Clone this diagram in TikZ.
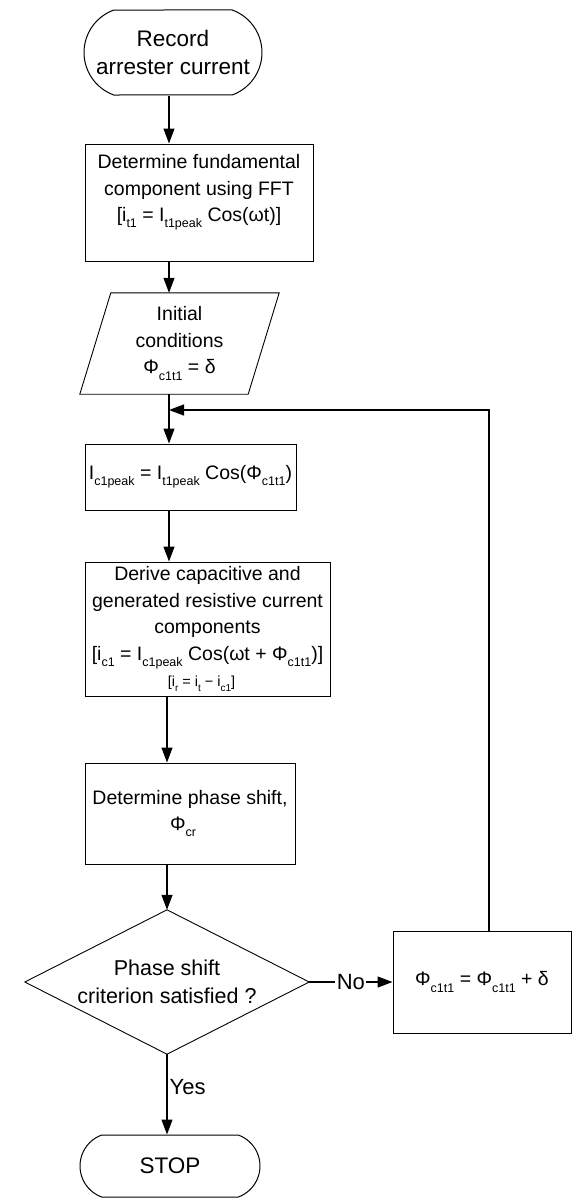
\documentclass[tikz,border=0pt]{standalone}
\usepackage{fontspec}
\setmainfont{Liberation Sans}
\usetikzlibrary{arrows.meta,shapes.misc,calc}
\newcommand\sbs[1]{\raisebox{-0.32em}{\fontsize{12.5}{12.5}\selectfont #1}}
\newcommand\sbsm[1]{\raisebox{-0.3em}{\fontsize{10}{10}\selectfont #1}}
\begin{document}
\begin{tikzpicture}[x=1pt,y=-1pt,
  every node/.style={font=\fontsize{19.5}{26.5}\selectfont, align=center, inner sep=0pt},
  box/.style={draw, line width=1pt, rectangle},
  term/.style={draw, line width=1pt, rounded rectangle, rounded rectangle arc length=140,
    font=\fontsize{22.5}{28}\selectfont},
  plain/.style={draw=none},
  shapeline/.style={line width=0.9pt},
  arr/.style={line width=1.2pt, -{Triangle[length=15pt,width=11pt]}},
  lbl/.style={fill=white, inner sep=1.5pt, font=\fontsize{22}{26}\selectfont}]
\useasboundingbox[fill=white] (0,0) rectangle (572,1199);

\coordinate (ax1) at (169,0);
\coordinate (ax2) at (167,0);
\coordinate (j) at (169,410);

\node[term, minimum width=178pt, minimum height=85pt] (rec) at (173,52.5) {Record\\arrester current};

\node[box, minimum width=228pt, minimum height=117pt,
  label={[yshift=10pt, align=center]center:Determine fundamental\\component using FFT\\{[}i\sbs{t1} = I\sbs{t1peak} Cos(ωt)]}] (fft) at (199,202.5) {};

\node[plain, minimum width=199pt, minimum height=101pt] (init) at (179.5,343.5) {Initial\\conditions\\Φ\sbs{c1t1} = δ};
\draw[shapeline] ($(init.north west)+(31,0)$) -- (init.north east) -- ($(init.south east)+(-31,0)$) -- (init.south west) -- cycle;

\node[box, minimum width=211pt, minimum height=66pt] (ic) at (190.5,477) {I\sbs{c1peak} = I\sbs{t1peak} Cos(Φ\sbs{c1t1})};

\node[box, minimum width=245pt, minimum height=134pt] (der) at (207.5,629) {Derive capacitive and\\generated resistive current\\components\\{[}i\sbs{c1} = I\sbs{c1peak} Cos(ωt + Φ\sbs{c1t1})]\\{\fontsize{14.5}{21}\selectfont [i\sbsm{r} = i\sbsm{t} − i\sbsm{c1}]}\hspace*{12pt}};

\node[box, minimum width=210pt, minimum height=101pt] (ph) at (190,813.5) {Determine phase shift,\\Φ\sbs{cr}\hspace*{14pt}};

\node[plain, minimum width=284pt, minimum height=144pt, font=\fontsize{21.5}{28}\selectfont] (dia) at (167,982) {Phase shift\\criterion satisfied ?};
\draw[shapeline] (dia.north) -- (dia.east) -- (dia.south) -- (dia.west) -- cycle;

\node[box, minimum width=178pt, minimum height=102pt] (fb) at (482,982) {Φ\sbs{c1t1} = Φ\sbs{c1t1} + δ};

\node[term, minimum width=180pt, minimum height=62pt] (stop) at (170,1166) {STOP};

\draw[arr] (rec.south -| ax1) -- (fft.north -| ax1);
\draw[arr] (fft.south -| ax1) -- (init.north -| ax1);
\draw[arr] (init.south -| ax1) -- (ic.north -| ax1);
\draw[arr] (ic.south -| ax1) -- (der.north -| ax1);
\draw[arr] (der.south -| ax2) -- (ph.north -| ax2);
\draw[arr] (ph.south -| ax2) -- (dia.north);
\draw[arr] (dia.east) -- node[lbl] {No} (fb.west);
\draw[arr] (dia.south) -- node[pos=0.41, anchor=west, xshift=2pt, font=\fontsize{22}{26}\selectfont] {Yes} (stop.north -| dia.south);
\draw[arr] ($(fb.north)+(7,0)$) |- (j);
\end{tikzpicture}
\end{document}
